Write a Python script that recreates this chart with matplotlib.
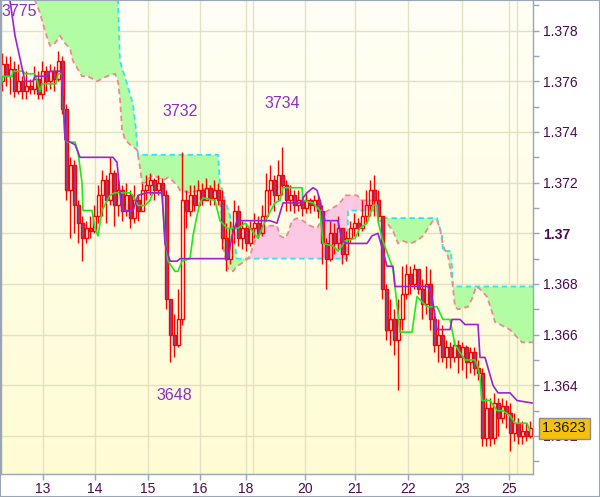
import numpy as np
import matplotlib.pyplot as plt
from matplotlib.transforms import blended_transform_factory

plt.rcParams['font.family'] = ['Liberation Sans', 'DejaVu Sans']

# Hourly candles (bar index 0..132), open of bar 0, then closes / highs / lows
first_open = 1.3760
closes = [
    1.3767, 1.3762, 1.3765, 1.3756, 1.3760, 1.3756, 1.3758, 1.3757, 1.3761, 1.3755,
    1.3764, 1.3760, 1.3764, 1.3761, 1.3768, 1.3749, 1.3717, 1.3727, 1.3711, 1.3704,
    1.3698, 1.3702, 1.3701, 1.3707, 1.3715, 1.3721, 1.3713, 1.3724, 1.3711, 1.3717,
    1.3709, 1.3715, 1.3706, 1.3713, 1.3709, 1.3717, 1.3719, 1.3721, 1.3717, 1.3720,
    1.3715, 1.3674, 1.3660, 1.3656, 1.3666, 1.3713, 1.3709, 1.3715, 1.3711, 1.3717,
    1.3713, 1.3718, 1.3714, 1.3717, 1.3713, 1.3698, 1.3690, 1.3702, 1.3709, 1.3698,
    1.3702, 1.3696, 1.3702, 1.3704, 1.3700, 1.3707, 1.3717, 1.3721, 1.3715, 1.3723,
    1.3719, 1.3713, 1.3715, 1.3711, 1.3713, 1.3710, 1.3713, 1.3711, 1.3713, 1.3709,
    1.3696, 1.3690, 1.3700, 1.3696, 1.3702, 1.3692, 1.3698, 1.3702, 1.3704, 1.3702,
    1.3707, 1.3711, 1.3717, 1.3713, 1.3707, 1.3678, 1.3662, 1.3666, 1.3658, 1.3666,
    1.3676, 1.3684, 1.3680, 1.3686, 1.3678, 1.3672, 1.3680, 1.3666, 1.3656, 1.3660,
    1.3651, 1.3655, 1.3651, 1.3656, 1.3651, 1.3655, 1.3649, 1.3653, 1.3647, 1.3645,
    1.3619, 1.3631, 1.3619, 1.3633, 1.3627, 1.3632, 1.3629, 1.3621, 1.3625, 1.3620,
    1.3622, 1.3620, 1.3623]
highs = [
    1.3771, 1.3770, 1.3770, 1.3768, 1.3767, 1.3762, 1.3764, 1.3761, 1.3766, 1.3764,
    1.3768, 1.3766, 1.3767, 1.3766, 1.3772, 1.3770, 1.3751, 1.3730, 1.3729, 1.3713,
    1.3707, 1.3705, 1.3707, 1.3711, 1.3719, 1.3725, 1.3723, 1.3730, 1.3725, 1.3721,
    1.3719, 1.3720, 1.3717, 1.3719, 1.3715, 1.3720, 1.3723, 1.3724, 1.3722, 1.3723,
    1.3722, 1.3717, 1.3674, 1.3668, 1.3678, 1.3732, 1.3717, 1.3719, 1.3719, 1.3721,
    1.3720, 1.3722, 1.3719, 1.3721, 1.3720, 1.3717, 1.3704, 1.3705, 1.3713, 1.3711,
    1.3705, 1.3704, 1.3705, 1.3708, 1.3707, 1.3711, 1.3724, 1.3727, 1.3723, 1.3729,
    1.3734, 1.3721, 1.3719, 1.3717, 1.3717, 1.3715, 1.3716, 1.3714, 1.3715, 1.3715,
    1.3711, 1.3698, 1.3705, 1.3704, 1.3707, 1.3702, 1.3701, 1.3705, 1.3708, 1.3706,
    1.3713, 1.3717, 1.3721, 1.3723, 1.3717, 1.3707, 1.3680, 1.3674, 1.3670, 1.3674,
    1.3687, 1.3688, 1.3687, 1.3688, 1.3685, 1.3682, 1.3687, 1.3686, 1.3670, 1.3666,
    1.3664, 1.3658, 1.3657, 1.3658, 1.3658, 1.3657, 1.3656, 1.3655, 1.3655, 1.3650,
    1.3647, 1.3635, 1.3635, 1.3637, 1.3635, 1.3635, 1.3634, 1.3633, 1.3629, 1.3627,
    1.3626, 1.3625, 1.3626]
lows = [
    1.3756, 1.3758, 1.3755, 1.3754, 1.3755, 1.3753, 1.3753, 1.3755, 1.3755, 1.3753,
    1.3753, 1.3756, 1.3757, 1.3756, 1.3760, 1.3747, 1.3713, 1.3698, 1.3700, 1.3696,
    1.3689, 1.3696, 1.3698, 1.3700, 1.3704, 1.3707, 1.3704, 1.3711, 1.3703, 1.3707,
    1.3705, 1.3707, 1.3702, 1.3704, 1.3705, 1.3709, 1.3713, 1.3715, 1.3713, 1.3715,
    1.3713, 1.3670, 1.3649, 1.3651, 1.3655, 1.3664, 1.3702, 1.3707, 1.3709, 1.3711,
    1.3711, 1.3713, 1.3711, 1.3711, 1.3711, 1.3694, 1.3685, 1.3688, 1.3696, 1.3695,
    1.3694, 1.3693, 1.3695, 1.3698, 1.3698, 1.3699, 1.3705, 1.3711, 1.3709, 1.3713,
    1.3715, 1.3709, 1.3709, 1.3708, 1.3709, 1.3707, 1.3708, 1.3708, 1.3709, 1.3706,
    1.3688, 1.3678, 1.3689, 1.3692, 1.3694, 1.3688, 1.3689, 1.3696, 1.3699, 1.3699,
    1.3701, 1.3704, 1.3707, 1.3707, 1.3704, 1.3674, 1.3658, 1.3656, 1.3652, 1.3638,
    1.3662, 1.3674, 1.3676, 1.3678, 1.3676, 1.3666, 1.3668, 1.3662, 1.3653, 1.3649,
    1.3649, 1.3647, 1.3647, 1.3649, 1.3645, 1.3646, 1.3643, 1.3645, 1.3644, 1.3642,
    1.3616, 1.3616, 1.3616, 1.3617, 1.3620, 1.3625, 1.3623, 1.3614, 1.3618, 1.3617,
    1.3617, 1.3618, 1.3619]

# Ichimoku lines (bar position, price)
tenkan_x = [-0.5, 0.25, 2.5, 2.75, 5.25, 5.75, 8.25, 9.5, 10, 13.5, 14, 15, 15.75, 16.5,
            18.25, 19, 20, 20.25, 22.5, 23.25, 24, 25, 27, 28.25, 32, 32.75, 34, 35.75,
            37, 37.75, 40, 40.75, 41.5, 43.25, 44, 45, 47, 47.75, 48.75, 49.5, 50.25,
            53.25, 54.5, 56.25, 59, 60.75, 62, 64, 65.25, 66.5, 68.25, 69.5, 70.25, 75,
            75.25, 77.75, 79.5, 80.25, 82.75, 84, 85, 85.75, 88.25, 89.5, 91.25, 92.75,
            93.75, 94, 95, 97.75, 99.5, 102.5, 103.75, 106.25, 108.75, 110.25, 112,
            113.25, 114.5, 115.75, 118.25, 119, 119.5, 120, 122, 123.75, 125.25, 127,
            128.25, 131.25, 132]
tenkan_y = [1.3757, 1.3762, 1.3762, 1.3764, 1.3764, 1.3763, 1.3763, 1.3756, 1.3759, 1.3759,
            1.3763, 1.3763, 1.3737, 1.3736, 1.3736, 1.3732, 1.3720, 1.3709, 1.3709, 1.3702,
            1.3699, 1.3709, 1.3715, 1.3716, 1.3716, 1.3715, 1.3711, 1.3711, 1.3713, 1.3716,
            1.3716, 1.3698, 1.3689, 1.3685, 1.3685, 1.3689, 1.3690, 1.3699, 1.3707, 1.3712,
            1.3714, 1.3713, 1.3705, 1.3702, 1.3702, 1.3704, 1.3702, 1.3698, 1.3703, 1.3707,
            1.3712, 1.3713, 1.3718, 1.3718, 1.3713, 1.3712, 1.3709, 1.3696, 1.3695, 1.3693,
            1.3695, 1.3697, 1.3698, 1.3702, 1.3704, 1.3711, 1.3711, 1.3705, 1.3698, 1.3686,
            1.3661, 1.3661, 1.3675, 1.3671, 1.3671, 1.3666, 1.3666, 1.3656, 1.3653, 1.3650,
            1.3650, 1.3647, 1.3643, 1.3634, 1.3634, 1.3630, 1.3630, 1.3628, 1.3625, 1.3625,
            1.3622]

kijun_x = [2, 3.25, 4.5, 5.75, 7.75, 8.25, 11.25, 12, 15, 15.75, 18.25, 19.5, 27.75, 28.75,
           29.5, 30, 32.75, 34, 36.25, 40, 40.75, 42, 43.75, 44.5, 56.5, 57.5, 58.75, 67,
           68.75, 69.5, 70.25, 75, 75.25, 76.25, 77.75, 78.75, 79.5, 80.25, 80.75, 84, 85,
           86.25, 91.25, 92.5, 94, 95.25, 96.25, 97.75, 98.25, 106.5, 107.5, 108.75, 112,
           112.5, 114.5, 115.75, 119, 119.5, 120.75, 122.75, 124, 127, 128.75, 132.5]
kijun_y = [1.3792, 1.3778, 1.3769, 1.3760, 1.3760, 1.3762, 1.3762, 1.3764, 1.3764, 1.3737,
           1.3735, 1.3730, 1.3730, 1.3728, 1.3716, 1.3709, 1.3709, 1.3715, 1.3716, 1.3716,
           1.3696, 1.3689, 1.3689, 1.3690, 1.3690, 1.3699, 1.3705, 1.3705, 1.3704, 1.3708,
           1.3712, 1.3712, 1.3714, 1.3716, 1.3718, 1.3717, 1.3713, 1.3708, 1.3705, 1.3705,
           1.3697, 1.3696, 1.3696, 1.3699, 1.3700, 1.3693, 1.3687, 1.3687, 1.3679, 1.3679,
           1.3675, 1.3662, 1.3662, 1.3666, 1.3666, 1.3664, 1.3664, 1.3651, 1.3651, 1.3640,
           1.3637, 1.3637, 1.3634, 1.3633]

span_a_x = [-0.25, 28.5, 29, 29.5, 31.25, 32.75, 33.5, 34, 54, 54.5, 55.75, 57, 57.75, 58.75,
            86.25, 86.5, 93.75, 94.5, 108.75, 110, 110.25, 112.25, 112.75, 132.75]
span_a_y = [1.3800, 1.3800, 1.3792, 1.3768, 1.3759, 1.3751, 1.3741, 1.3731, 1.3731, 1.3720,
            1.3713, 1.3707, 1.3700, 1.3690, 1.3690, 1.3709, 1.3709, 1.3706, 1.3706, 1.3699,
            1.3693, 1.3693, 1.3679, 1.3679]

span_b_x = [-0.25, 7.75, 8.25, 9.5, 10.75, 12, 13.25, 14.5, 15.75, 17, 17.75, 20, 21.5, 23.75,
            26.25, 28.25, 29, 29.5, 30, 30.75, 32, 33.75, 34.5, 35, 35.75, 37, 37.75, 39,
            40.25, 41.5, 42.5, 43.75, 44.5, 47, 49.5, 52, 54, 55, 55.25, 56.5, 57.75, 58.75,
            60.75, 62, 62.75, 64, 65.25, 67, 68.75, 69.5, 70.75, 71.5, 72.5, 73.75, 75.25,
            77, 78.75, 79.5, 80.25, 81.5, 83.75, 85, 85.75, 88.75, 90, 93.75, 94.5, 96.25,
            97.75, 99, 100.25, 102, 103.75, 105.25, 106.5, 107.75, 108.75, 109.5, 110.25,
            111.5, 112.5, 113.25, 114, 116.5, 117.75, 118.5, 119.5, 121.25, 122.5, 123.25,
            124.5, 127, 128.75, 130, 132.75]
span_b_y = [1.3800, 1.3800, 1.3792, 1.3787, 1.3780, 1.3774, 1.3775, 1.3778, 1.3775, 1.3773,
            1.3768, 1.3762, 1.3762, 1.3760, 1.3762, 1.3763, 1.3760, 1.3753, 1.3741, 1.3737,
            1.3735, 1.3733, 1.3726, 1.3720, 1.3720, 1.3722, 1.3723, 1.3722, 1.3721, 1.3722,
            1.3721, 1.3719, 1.3717, 1.3716, 1.3717, 1.3718, 1.3716, 1.3707, 1.3695, 1.3686,
            1.3685, 1.3687, 1.3689, 1.3691, 1.3695, 1.3700, 1.3703, 1.3703, 1.3703, 1.3699,
            1.3698, 1.3700, 1.3705, 1.3706, 1.3705, 1.3703, 1.3702, 1.3704, 1.3708, 1.3709,
            1.3711, 1.3713, 1.3715, 1.3715, 1.3713, 1.3713, 1.3705, 1.3704, 1.3701, 1.3696,
            1.3697, 1.3696, 1.3697, 1.3699, 1.3702, 1.3705, 1.3705, 1.3702, 1.3695, 1.3691,
            1.3682, 1.3671, 1.3670, 1.3671, 1.3675, 1.3679, 1.3678, 1.3675, 1.3669, 1.3665,
            1.3664, 1.3662, 1.3659, 1.3657, 1.3657]

day_labels = ['13', '14', '15', '16', '18', '20', '21', '22', '23', '25']
day_pos = [10.25, 23.25, 36.5, 49.5, 61, 75.75, 88.25, 101.5, 115, 126.75]
extra_day_lines = [62.75, 128.75]

price_ticks = [1.362, 1.364, 1.366, 1.368, 1.370, 1.372, 1.374, 1.376, 1.378]
price_labels = ['1.362', '1.364', '1.366', '1.368', '1.37', '1.372', '1.374', '1.376', '1.378']

swing_labels = ['3775', '3732', '3734', '3648']
swing_x = [4.25, 44.5, 70, 43]
swing_y = [1.37874, 1.37479, 1.37514, 1.36358]

last_price = 1.3623

# ---------------------------------------------------------------
fig = plt.figure(figsize=(6.0, 4.97), dpi=100)
fig.patch.set_facecolor('white')
ax = fig.add_axes([1 / 600, 23 / 497, 532 / 600, 474 / 497])

x_min, x_max = -0.25, 132.75
y_min, y_max = 1.360498, 1.379211
ax.set_xlim(x_min, x_max)
ax.set_ylim(y_min, y_max)

# background gradient
grad = np.linspace(0, 1, 256).reshape(-1, 1)
top_c = np.array([255, 255, 246]) / 255
bot_c = np.array([255, 252, 212]) / 255
img = top_c[None, None, :] * (1 - grad[:, :, None]) + bot_c[None, None, :] * grad[:, :, None]
ax.imshow(img, extent=[x_min, x_max, y_min, y_max], aspect='auto', origin='upper', zorder=0)

# grid
grid_c = '#e2e2c2'
for p in price_ticks:
    ax.axhline(p, color=grid_c, lw=1, zorder=0.5)
for d in day_pos + extra_day_lines:
    ax.axvline(d, color=grid_c, lw=1, zorder=0.5)

# cloud
xs = np.union1d(span_a_x, span_b_x)
sa = np.interp(xs, span_a_x, span_a_y)
sb = np.interp(xs, span_b_x, span_b_y)
ax.fill_between(xs, sa, sb, where=sa >= sb, interpolate=True, color='#b2fca4', lw=0, zorder=1)
ax.fill_between(xs, sa, sb, where=sa < sb, interpolate=True, color='#fcc8e4', lw=0, zorder=1)
ax.plot(span_a_x, span_a_y, color='#2ee6f2', lw=1.3, dashes=(3, 2), zorder=1.5)
ax.plot(span_b_x, span_b_y, color='#f08a8a', lw=1.3, dashes=(3, 2), zorder=1.5)

# candles
c = np.array(closes)
o = np.concatenate([[first_open], c[:-1]])
h = np.array(highs)
l = np.array(lows)
idx = np.arange(len(c))
top = np.maximum(o, c)
bot = np.minimum(o, c)
ax.vlines(idx, top, np.maximum(h, top), color='#ff0000', lw=1, zorder=2)
ax.vlines(idx, np.minimum(l, bot), bot, color='#ff0000', lw=1, zorder=2)
bear = c < o
ax.bar(idx[bear], (top - bot)[bear], bottom=bot[bear], width=0.75,
       facecolor='#7a4ea2', edgecolor='#ff0000', lw=1, zorder=2.2)
ax.bar(idx[~bear], np.maximum(top - bot, 0.00002)[~bear], bottom=bot[~bear], width=0.75,
       facecolor='none', edgecolor='#ff0000', lw=1, zorder=2.2)

# tenkan / kijun
ax.plot(tenkan_x, tenkan_y, color='#1ee81e', lw=1.2, zorder=3)
ax.plot(kijun_x, kijun_y, color='#9b22d2', lw=1.2, zorder=3)

# swing labels
for t, sx, sy in zip(swing_labels, swing_x, swing_y):
    ax.text(sx, sy, t, color='#8a2ec4', fontsize=11.5, ha='center', va='center', zorder=4)

# axes styling
label_c = '#4a0a4e'
edge_c = '#98a6b6'
ax.yaxis.tick_right()
ax.set_yticks(price_ticks)
ax.set_yticklabels(price_labels)
ax.set_yticks(np.arange(1.361, 1.3795, 0.002), minor=True)
ax.tick_params(axis='y', which='both', direction='out', length=4, width=1, color=edge_c,
               labelsize=10, labelcolor=label_c, pad=3)
for tl in ax.get_yticklabels():
    if tl.get_text() == '1.37':
        tl.set_fontweight('bold')
ax.set_xticks(day_pos)
ax.set_xticklabels(day_labels)
ax.tick_params(axis='x', direction='out', length=4, width=1, color=edge_c,
               labelsize=10, labelcolor=label_c, pad=2)
for s in ax.spines.values():
    s.set_color(edge_c)
    s.set_linewidth(1)
ax.spines['top'].set_visible(False)

# last price box (sits over the 1.362 tick label, as in the source chart)
tr = blended_transform_factory(ax.transAxes, ax.transData)
ax.text(1.017, last_price, '1.3623', transform=tr, fontsize=10.5, color='#1a1a1a',
        ha='left', va='center', zorder=6, clip_on=False,
        bbox=dict(boxstyle='square,pad=0.22', facecolor='#f4c20c', edgecolor='#8c8c8c', lw=1))

# outer frame
fig.patches.append(plt.Rectangle((0, 0), 1, 1, transform=fig.transFigure, fill=False,
                                 edgecolor=edge_c, lw=1.5))

fig.savefig('out.png', dpi=100)
